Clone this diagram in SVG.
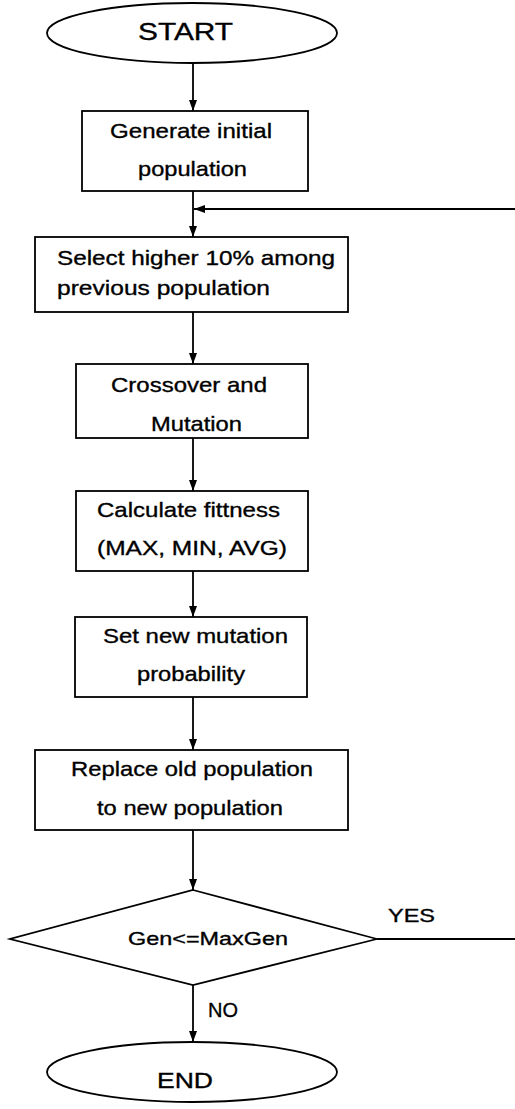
<svg xmlns="http://www.w3.org/2000/svg" width="515" height="1109" viewBox="0 0 515 1109">
<style>
.shape{fill:#fff;stroke:#000;stroke-width:1.8}
.conn{fill:none;stroke:#000;stroke-width:1.8}
text{font-family:"Liberation Sans",Arial,sans-serif;fill:#000;stroke:#000;stroke-width:0.35}
.t{font-size:21px}
</style>
<defs>
<marker id="arr" markerUnits="userSpaceOnUse" markerWidth="12" markerHeight="9" refX="11" refY="4" orient="auto">
<path d="M0,0 L11,4 L0,8 z" fill="#000"/>
</marker>
</defs>
<rect width="515" height="1109" fill="#fff"/>
<g id="connectors">
<line class="conn" x1="193" y1="63" x2="193" y2="111" marker-end="url(#arr)"/>
<line class="conn" x1="193" y1="191" x2="193" y2="237" marker-end="url(#arr)"/>
<line class="conn" x1="515" y1="209" x2="194" y2="209" marker-end="url(#arr)"/>
<line class="conn" x1="193" y1="312" x2="193" y2="364" marker-end="url(#arr)"/>
<line class="conn" x1="193" y1="438" x2="193" y2="491" marker-end="url(#arr)"/>
<line class="conn" x1="193" y1="571" x2="193" y2="617" marker-end="url(#arr)"/>
<line class="conn" x1="193" y1="697" x2="193" y2="750" marker-end="url(#arr)"/>
<line class="conn" x1="193" y1="830" x2="193" y2="890" marker-end="url(#arr)"/>
<line class="conn" x1="377" y1="939" x2="515" y2="939"/>
<line class="conn" x1="193" y1="985" x2="193" y2="1042" marker-end="url(#arr)"/>
<text x="388" y="922" font-size="18" textLength="47" lengthAdjust="spacingAndGlyphs">YES</text>
<text x="208" y="1017" font-size="21" textLength="30" lengthAdjust="spacingAndGlyphs">NO</text>
</g>
<g id="start">
<ellipse class="shape" cx="192" cy="33" rx="145" ry="30"/>
<text x="138" y="39.5" font-size="24" textLength="95" lengthAdjust="spacingAndGlyphs">START</text>
</g>
<g id="generate">
<rect class="shape" x="82" y="111" width="226" height="80"/>
<text class="t" x="110" y="138" textLength="162" lengthAdjust="spacingAndGlyphs">Generate initial</text>
<text class="t" x="138" y="176" textLength="109" lengthAdjust="spacingAndGlyphs">population</text>
</g>
<g id="select">
<rect class="shape" x="35" y="237" width="313" height="75"/>
<text class="t" x="57" y="265" textLength="278" lengthAdjust="spacingAndGlyphs">Select higher 10% among</text>
<text class="t" x="57" y="295" textLength="213" lengthAdjust="spacingAndGlyphs">previous population</text>
</g>
<g id="crossover">
<rect class="shape" x="76" y="364" width="232" height="74"/>
<text class="t" x="111" y="392" textLength="156" lengthAdjust="spacingAndGlyphs">Crossover and</text>
<text class="t" x="151" y="431" textLength="91" lengthAdjust="spacingAndGlyphs">Mutation</text>
</g>
<g id="fitness">
<rect class="shape" x="76" y="491" width="232" height="80"/>
<text class="t" x="97" y="517" textLength="183" lengthAdjust="spacingAndGlyphs">Calculate fittness</text>
<text class="t" x="97" y="555" textLength="190" lengthAdjust="spacingAndGlyphs">(MAX, MIN, AVG)</text>
</g>
<g id="setmutation">
<rect class="shape" x="75" y="617" width="232" height="80"/>
<text class="t" x="103" y="643" textLength="185" lengthAdjust="spacingAndGlyphs">Set new mutation</text>
<text class="t" x="137" y="681" textLength="108" lengthAdjust="spacingAndGlyphs">probability</text>
</g>
<g id="replace">
<rect class="shape" x="35" y="750" width="313" height="80"/>
<text class="t" x="71" y="776" textLength="242" lengthAdjust="spacingAndGlyphs">Replace old population</text>
<text class="t" x="97" y="815" textLength="186" lengthAdjust="spacingAndGlyphs">to new population</text>
</g>
<g id="decision">
<polygon class="shape" points="193,890 377,939 193,985 10,939"/>
<text x="128" y="945" font-size="19" textLength="160" lengthAdjust="spacingAndGlyphs">Gen&lt;=MaxGen</text>
</g>
<g id="end">
<ellipse class="shape" cx="192" cy="1072" rx="145" ry="30"/>
<text x="157" y="1088" font-size="22" textLength="56" lengthAdjust="spacingAndGlyphs">END</text>
</g>
</svg>
